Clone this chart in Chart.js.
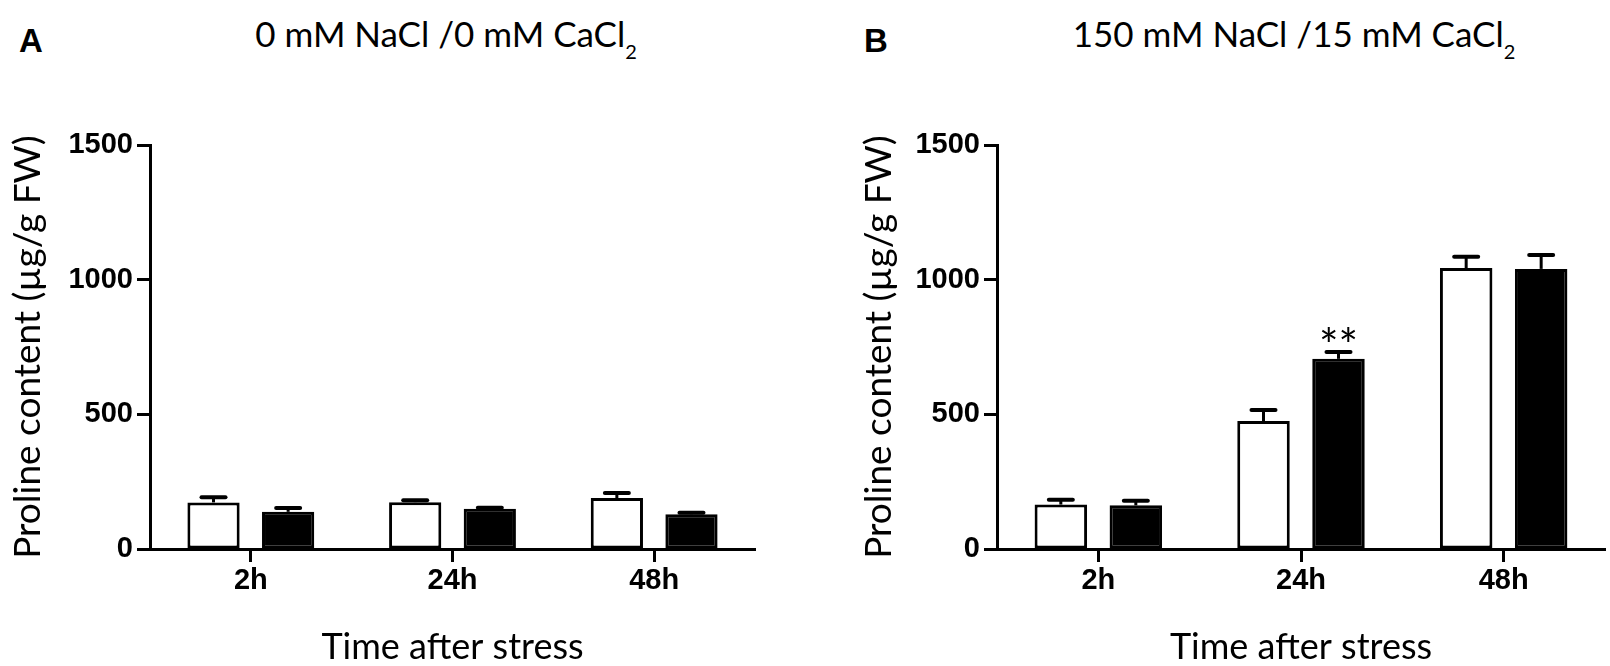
<!DOCTYPE html>
<html>
<head>
<meta charset="utf-8">
<script src="https://cdn.jsdelivr.net/npm/chart.js@4.4.1/dist/chart.umd.min.js"></script>
<style>
html,body{margin:0;padding:0;background:#fff;width:1610px;height:666px;overflow:hidden;}
.panel{position:absolute;top:0;height:666px;}
.letter{position:absolute;font-family:"Liberation Sans",Arial,sans-serif;font-weight:bold;font-size:33px;line-height:33px;color:#000;}
.title{position:absolute;font-family:Lato,sans-serif;font-size:35px;line-height:35px;color:#000;text-align:center;white-space:nowrap;}
.title .s{font-size:20px;position:relative;top:12px;}
</style>
</head>
<body>
<div class="letter" style="left:19px;top:24px">A</div>
<div class="letter" style="left:864px;top:24px">B</div>
<div class="title" style="left:246px;width:400px;top:16px">0 mM NaCl /0 mM CaCl<span class="s">2</span></div>
<div class="title" style="left:1044px;width:500px;top:16px">150 mM NaCl /15 mM CaCl<span class="s">2</span></div>
<div class="panel" style="left:0;width:805px;"><canvas id="chartA"></canvas></div>
<div class="panel" style="left:847px;width:763px;"><canvas id="chartB"></canvas></div>
<script>
// ---- data ----
const categories = ['2h', '24h', '48h'];
const yTicks = [0, 500, 1000, 1500];
const yTitle = 'Proline content (µg/g FW)';
const xTitle = 'Time after stress';

// Panel A: 0 mM NaCl / 0 mM CaCl2
const panelA_white = [173, 174, 189];
const panelA_whiteErr = [19, 7, 19];
const panelA_black = [138, 149, 129];
const panelA_blackErr = [14, 4, 6];

// Panel B: 150 mM NaCl / 15 mM CaCl2
const panelB_white = [165, 475, 1043];
const panelB_whiteErr = [18, 41, 42];
const panelB_black = [162, 706, 1040];
const panelB_blackErr = [17, 25, 52];
const panelB_blackMarks = ['', '**', ''];

// ---- plugin: one-sided error bars + significance marks ----
const errorBarPlugin = {
  id: 'errorBars',
  afterDatasetsDraw(chart) {
    const ctx = chart.ctx;
    const ys = chart.scales.y;
    chart.data.datasets.forEach((ds, di) => {
      const meta = chart.getDatasetMeta(di);
      const errs = ds.errors || [];
      const marks = ds.marks || [];
      meta.data.forEach((bar, i) => {
        const v = ds.data[i];
        const e = errs[i] || 0;
        const y0 = ys.getPixelForValue(v);
        const y1 = ys.getPixelForValue(v + e);
        ctx.save();
        ctx.strokeStyle = '#000';
        ctx.lineWidth = 3;
        ctx.beginPath();
        ctx.moveTo(bar.x, y0);
        ctx.lineTo(bar.x, y1);
        ctx.stroke();
        ctx.lineWidth = 4;
        ctx.lineCap = 'round';
        ctx.beginPath();
        ctx.moveTo(bar.x - 12, y1);
        ctx.lineTo(bar.x + 12, y1);
        ctx.stroke();
        if (marks[i]) {
          ctx.fillStyle = '#000';
          ctx.font = '46px Lato';
          ctx.textAlign = 'center';
          ctx.textBaseline = 'alphabetic';
          ctx.fillText(marks[i], bar.x, y1 + 10);
        }
        ctx.restore();
      });
    });
  }
};

function makeChart(id, white, whiteErr, black, blackErr, blackMarks, rightPad, yTitlePad) {
  const tickFont = {family: '"Liberation Sans", Arial, sans-serif', size: 29, weight: 'bold'};
  const xTitleFont = {family: 'Lato, sans-serif', size: 36, lineHeight: 1};
  const yTitleFont = {family: 'Lato, sans-serif', size: 37, lineHeight: 1};
  return new Chart(document.getElementById(id), {
    type: 'bar',
    data: {
      labels: categories,
      datasets: [
        {data: white, errors: whiteErr, backgroundColor: '#fff', borderColor: '#000',
         borderWidth: 3, borderSkipped: false, barPercentage: 0.7, categoryPercentage: 0.74},
        {data: black, errors: blackErr, marks: blackMarks, backgroundColor: '#000', borderColor: '#000',
         borderWidth: 3, borderSkipped: false, barPercentage: 0.7, categoryPercentage: 0.74}
      ]
    },
    options: {
      responsive: true,
      maintainAspectRatio: false,
      animation: false,
      events: [],
      layout: {padding: {top: 145, right: rightPad, left: 0, bottom: 0}},
      plugins: {legend: {display: false}, tooltip: {enabled: false}, title: {display: false}},
      scales: {
        x: {
          type: 'category',
          offset: true,
          grid: {offset: false, drawOnChartArea: false, drawTicks: true, tickLength: 13, tickWidth: 3, tickColor: '#000'},
          border: {display: true, color: '#000', width: 3},
          ticks: {color: '#000', font: tickFont, padding: 2, maxRotation: 0},
          title: {display: true, text: xTitle, color: '#000', font: xTitleFont, padding: {top: 0, bottom: 1}},
          afterFit(s) { s.height = 117; }
        },
        y: {
          min: 0,
          max: 1500,
          grid: {drawOnChartArea: false, drawTicks: true, tickLength: 13, tickWidth: 3, tickColor: '#000'},
          border: {display: true, color: '#000', width: 3},
          ticks: {color: '#000', font: tickFont, padding: 4, callback: v => String(v)},
          afterBuildTicks(s) { s.ticks = yTicks.map(v => ({value: v})); },
          title: {display: true, text: yTitle, color: '#000', font: yTitleFont, padding: {top: yTitlePad, bottom: 0}},
          afterFit(s) { s.width = 150; }
        }
      }
    },
    plugins: [errorBarPlugin]
  });
}

const fontsReady = Promise.all([
  document.fonts.load('36px Lato'),
  document.fonts.load('bold 29px "Liberation Sans"')
]).catch(() => null);
fontsReady.then(() => {
  makeChart('chartA', panelA_white, panelA_whiteErr, panelA_black, panelA_blackErr, [], 50, 10);
  makeChart('chartB', panelB_white, panelB_whiteErr, panelB_black, panelB_blackErr, panelB_blackMarks, 5, 14);
});
</script>
</body>
</html>
